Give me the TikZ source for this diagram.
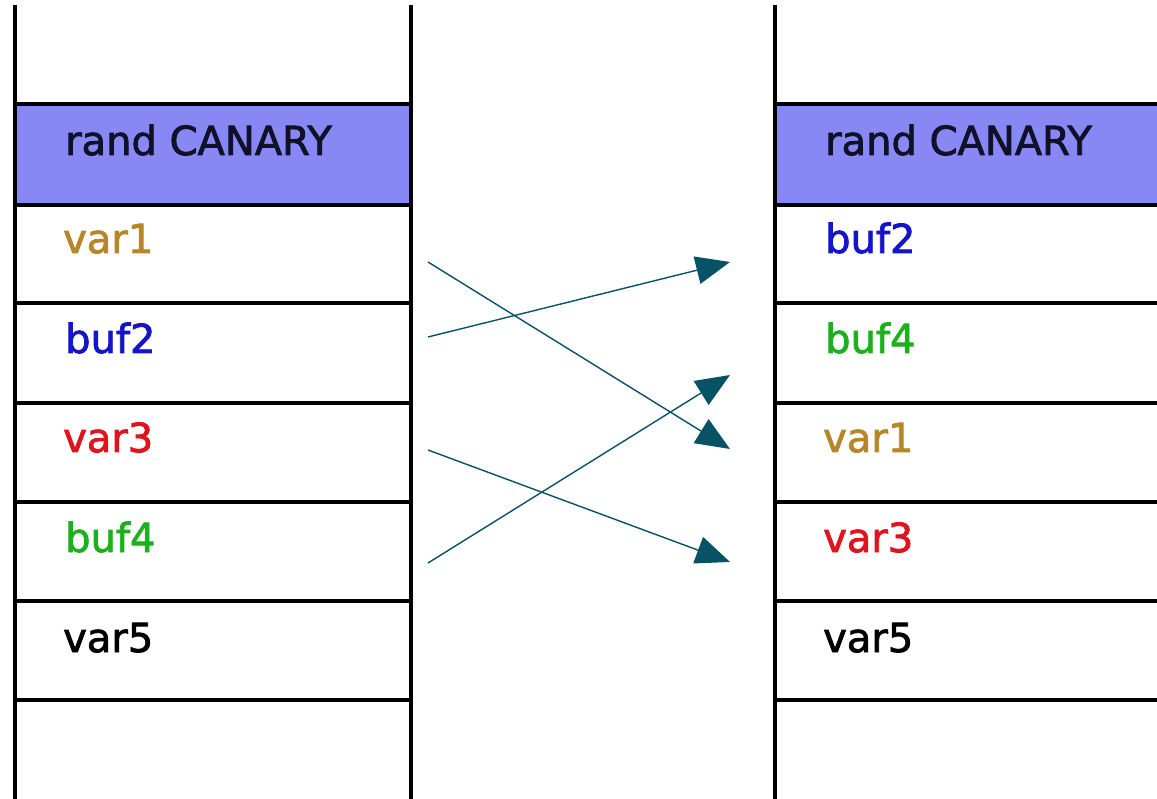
\documentclass[tikz,border=0pt]{standalone}
\usepackage{fontspec}
\setmainfont{DejaVu Sans}[FakeBold=2]
\usetikzlibrary{arrows.meta}
\definecolor{canaryfill}{RGB}{136,136,244}
\definecolor{arrowteal}{RGB}{8,82,102}
\definecolor{cgold}{RGB}{182,134,40}
\definecolor{cblue}{RGB}{20,20,200}
\definecolor{cred}{RGB}{222,20,30}
\definecolor{cgreen}{RGB}{28,176,28}
\definecolor{cdark}{RGB}{16,16,40}
\tikzset{
  wall/.style={line width=4pt, black},
  slot/.style={line width=3.8pt, black},
  lbl/.style={anchor=base west, inner sep=0pt, font=\fontsize{40}{48}\selectfont},
  swap/.style={draw=arrowteal, line width=1.4pt,
    -{Triangle[length=34pt,width=28pt]}, fill=arrowteal},
}
\begin{document}
\begin{tikzpicture}[x=1pt,y=-1pt]
\useasboundingbox (0,0) rectangle (1157,799);
\clip (0,0) rectangle (1157,799);

% canary slots
\fill[canaryfill] (15,104) rectangle (411,205);
\fill[canaryfill] (775,104) rectangle (1157,205);

% slot separators, left stack
\foreach \y in {104,205,303,403,502,601,700}
  \draw[slot] (15,\y) -- (411,\y);
% slot separators, right stack
\foreach \y in {104,205,303,403,502,601,700}
  \draw[slot] (775,\y) -- (1160,\y);

% stack walls
\draw[wall] (15,5) -- (15,805);
\draw[wall] (411,5) -- (411,805);
\draw[wall] (775,5) -- (775,805);

% left stack contents
\node[lbl, text=cdark] (lcan) at (65,155) {rand CANARY};
\node[lbl, text=cgold]  (lv1) at (63,253) {var1};
\node[lbl, text=cblue]  (lb2) at (65,353) {buf2};
\node[lbl, text=cred]   (lv3) at (63,452) {var3};
\node[lbl, text=cgreen] (lb4) at (65,552) {buf4};
\node[lbl]              (lv5) at (63,652) {var5};

% right stack contents
\node[lbl, text=cdark] (rcan) at (825,155) {rand CANARY};
\node[lbl, text=cblue]  (rb2) at (825,253) {buf2};
\node[lbl, text=cgreen] (rb4) at (825,353) {buf4};
\node[lbl, text=cgold]  (rv1) at (823,452) {var1};
\node[lbl, text=cred]   (rv3) at (823,552) {var3};
\node[lbl]              (rv5) at (823,652) {var5};

% arrow end points
\coordinate (s1) at (428,262);
\coordinate (s2) at (428,337);
\coordinate (s3) at (428,450);
\coordinate (s4) at (428,563);
\coordinate (t1) at (730,449);
\coordinate (t2) at (730,262);
\coordinate (t3) at (730,562);
\coordinate (t4) at (730,375);

% reordering
\draw[swap] (s1) -- (t1);
\draw[swap] (s2) -- (t2);
\draw[swap] (s3) -- (t3);
\draw[swap] (s4) -- (t4);
\end{tikzpicture}
\end{document}
